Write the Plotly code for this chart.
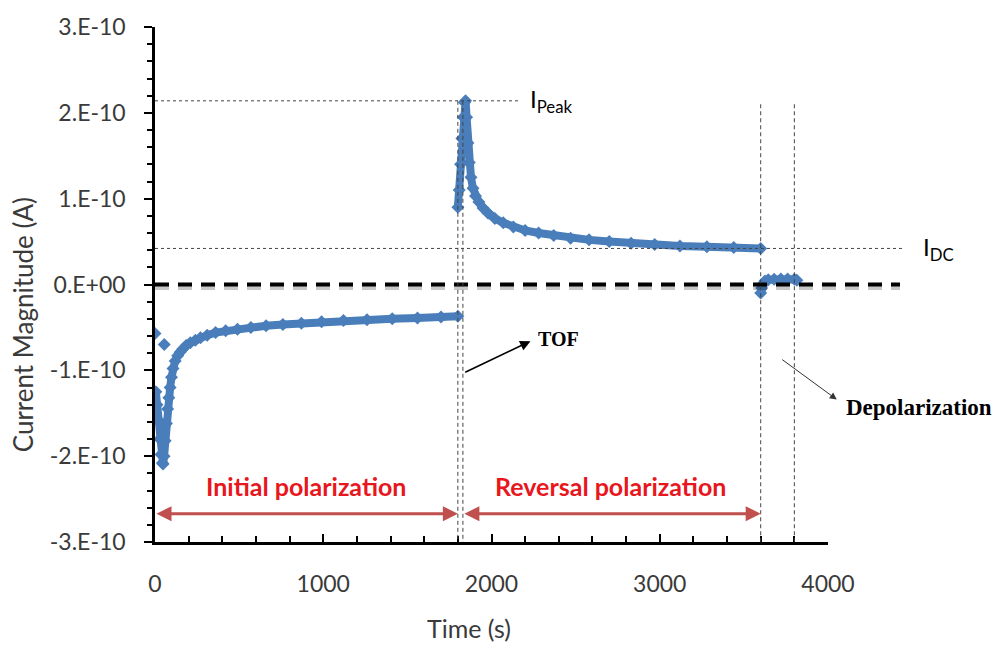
import plotly.graph_objects as go

# ---------------- data (current in units of 1e-10 A) ----------------
t_init = [5, 12, 20, 28, 36, 44, 48, 54, 60, 68, 75, 82, 90, 98, 107, 120, 135, 149, 165, 185,
          210, 240, 270, 310, 360, 420, 490, 570, 660, 760, 870, 990, 1120, 1260, 1410, 1560, 1700, 1800]
i_init = [-1.25, -1.40, -1.58, -1.80, -1.98, -2.08, -2.09, -2.00, -1.82, -1.62, -1.45, -1.32, -1.20, -1.08, -0.98,
          -0.89, -0.83, -0.79, -0.75, -0.71, -0.68, -0.65, -0.62, -0.59, -0.56, -0.54, -0.52, -0.50, -0.48, -0.465,
          -0.45, -0.435, -0.42, -0.41, -0.40, -0.39, -0.38, -0.37]
t_init_out = [0, 55]
i_init_out = [-0.57, -0.70]

t_rev = [1800, 1808, 1816, 1824, 1832, 1840, 1846, 1852, 1860, 1868, 1878, 1890, 1905, 1925, 1950, 1980,
         2020, 2070, 2130, 2200, 2280, 2370, 2470, 2580, 2700, 2830, 2970, 3120, 3280, 3440, 3600]
i_rev = [0.90, 1.10, 1.40, 1.70, 1.95, 2.12, 2.14, 1.95, 1.65, 1.42, 1.25, 1.12, 1.03, 0.96, 0.89, 0.83,
         0.77, 0.72, 0.67, 0.63, 0.60, 0.57, 0.54, 0.52, 0.50, 0.48, 0.465, 0.45, 0.44, 0.43, 0.42]

t_dep = [3600, 3606, 3614, 3625, 3645, 3680, 3720, 3760, 3800, 3815]
i_dep = [-0.10, -0.04, 0.01, 0.04, 0.055, 0.06, 0.065, 0.065, 0.06, 0.05]

scale = 1e-10
y_tickvals = [-3, -2, -1, 0, 1, 2, 3]
y_ticktext = ["-3.E-10", "-2.E-10", "-1.E-10", "0.E+00", "1.E-10", "2.E-10", "3.E-10"]
x_tickvals = [0, 1000, 2000, 3000, 4000]
x_ticktext = ["0", "1000", "2000", "3000", "4000"]

i_peak = 2.14
i_dc = 0.42
t_switch = [1800, 1830]
t_rev_end = 3600
t_dep_end = 3800

BLUE = "#4a7ebb"
FONT = "Lato"
GREY = "#3a3a3a"

fig = go.Figure()

def add_series(t, i, lines=True):
    fig.add_trace(go.Scatter(
        x=t, y=[v * scale for v in i],
        mode="lines+markers" if lines else "markers",
        line=dict(color=BLUE, width=8),
        marker=dict(symbol="diamond", size=10, color=BLUE),
        showlegend=False, hoverinfo="skip"))

add_series(t_init, i_init)
add_series(t_init_out, i_init_out, lines=False)
add_series(t_rev, i_rev)
add_series(t_dep, i_dep)

shapes = []
# zero line shadow + thick dashed zero line
shapes.append(dict(type="line", xref="paper", yref="y", x0=0, x1=1.107,
                   y0=-0.035 * scale, y1=-0.035 * scale,
                   line=dict(color="rgba(0,0,0,0.22)", width=5, dash="14px,9px"), layer="above"))
shapes.append(dict(type="line", xref="paper", yref="y", x0=0, x1=1.107, y0=0, y1=0,
                   line=dict(color="black", width=4, dash="14px,9px"), layer="above"))
# I_DC dotted line
shapes.append(dict(type="line", xref="paper", yref="y", x0=0, x1=1.114,
                   y0=i_dc * scale, y1=i_dc * scale,
                   line=dict(color="#444444", width=1, dash="3px,3px"), layer="above"))
# I_peak dotted line
shapes.append(dict(type="line", xref="x", yref="y", x0=0, x1=2170,
                   y0=i_peak * scale, y1=i_peak * scale,
                   line=dict(color="#444444", width=1, dash="3px,3px"), layer="above"))
# vertical dashed lines
for tv in t_switch:
    shapes.append(dict(type="line", xref="x", yref="y", x0=tv, x1=tv,
                       y0=i_peak * scale, y1=-3 * scale,
                       line=dict(color="#444444", width=1, dash="4px,3px"), layer="above"))
for tv in [t_rev_end, t_dep_end]:
    shapes.append(dict(type="line", xref="x", yref="y", x0=tv, x1=tv,
                       y0=2.1 * scale, y1=-3 * scale,
                       line=dict(color="#444444", width=1, dash="4px,3px"), layer="above"))

annotations = []
# red double arrows
RED_AR = "#c0504d"
arrow_y = -2.67 * scale
for (a, b) in [(0, t_switch[0]), (t_switch[1], t_rev_end)]:
    annotations.append(dict(x=b, y=arrow_y, ax=a, ay=arrow_y, xref="x", yref="y",
                            axref="x", ayref="y", text="", showarrow=True,
                            arrowhead=2, startarrowhead=2, arrowside="end+start",
                            arrowsize=1.0, startarrowsize=1.0, arrowwidth=3, arrowcolor=RED_AR,
                            standoff=0, startstandoff=0))
RED_TX = "#e8161d"
annotations.append(dict(x=900, y=-2.35 * scale, xref="x", yref="y", text="<b>Initial polarization</b>",
                        showarrow=False, font=dict(family=FONT, size=25, color=RED_TX)))
annotations.append(dict(x=2710, y=-2.35 * scale, xref="x", yref="y", text="<b>Reversal polarization</b>",
                        showarrow=False, font=dict(family=FONT, size=25, color=RED_TX)))
# labels
annotations.append(dict(x=2215, y=i_peak * scale, xref="x", yref="y", text="I<sub>Peak</sub>",
                        showarrow=False, xanchor="left", yanchor="middle",
                        font=dict(family=FONT, size=24, color="black")))
annotations.append(dict(x=1.138, y=i_dc * scale, xref="paper", yref="y", text="I<sub>DC</sub>",
                        showarrow=False, xanchor="left", yanchor="middle",
                        font=dict(family=FONT, size=24, color="black")))
annotations.append(dict(x=2400, y=-0.64 * scale, xref="x", yref="y", text="<b>TOF</b>",
                        showarrow=False, font=dict(family="Liberation Serif", size=20, color="black")))
annotations.append(dict(x=2232, y=-0.66 * scale, ax=1835, ay=-1.03 * scale, xref="x", yref="y",
                        axref="x", ayref="y", text="", showarrow=True, arrowhead=2,
                        arrowsize=1.3, arrowwidth=1.6, arrowcolor="black", standoff=0))
annotations.append(dict(x=1.024, y=-1.43 * scale, xref="paper", yref="y", text="<b>Depolarization</b>",
                        showarrow=False, xanchor="left",
                        font=dict(family="Liberation Serif", size=23, color="black")))
annotations.append(dict(x=1.013, y=-1.34 * scale, ax=-56, ay=-41, xref="paper", yref="y",
                        axref="pixel", ayref="pixel", text="", showarrow=True, arrowhead=2,
                        arrowsize=1.4, arrowwidth=1, arrowcolor="#333333", standoff=0))
# axis titles
annotations.append(dict(x=0.467, y=-0.167, xref="paper", yref="paper", text="Time (s)",
                        showarrow=False, yanchor="middle",
                        font=dict(family=FONT, size=25, color=GREY)))
annotations.append(dict(x=-0.196, y=0.421, xref="paper", yref="paper", text="Current Magnitude (A)",
                        showarrow=False, textangle=-90, xanchor="center", yanchor="middle",
                        font=dict(family=FONT, size=26, color=GREY)))

fig.update_layout(
    width=996, height=645,
    margin=dict(l=155, r=168, t=22, b=103),
    paper_bgcolor="white", plot_bgcolor="white",
    shapes=shapes, annotations=annotations,
    xaxis=dict(range=[0, 4000], showgrid=False, zeroline=False, showline=True,
               linecolor="black", linewidth=2.5,
               tickvals=x_tickvals, ticktext=x_ticktext,
               ticks="inside", ticklen=8, tickwidth=2, tickcolor="black",
               minor=dict(dtick=200, ticks="inside", ticklen=6, tickwidth=2, tickcolor="black"),
               tickfont=dict(family=FONT, size=23, color=GREY), ticklabelstandoff=20),
    yaxis=dict(range=[-3 * scale, 3 * scale], showgrid=False, zeroline=False, showline=True,
               linecolor="black", linewidth=2.5,
               tickvals=[v * scale for v in y_tickvals], ticktext=y_ticktext,
               ticks="outside", ticklen=8, tickwidth=2, tickcolor="black",
               minor=dict(dtick=0.2 * scale, tick0=0, ticks="outside", ticklen=5, tickwidth=2,
                          tickcolor="black"),
               tickfont=dict(family=FONT, size=23, color=GREY), ticklabelstandoff=14),
)

fig.write_html("out.html")
